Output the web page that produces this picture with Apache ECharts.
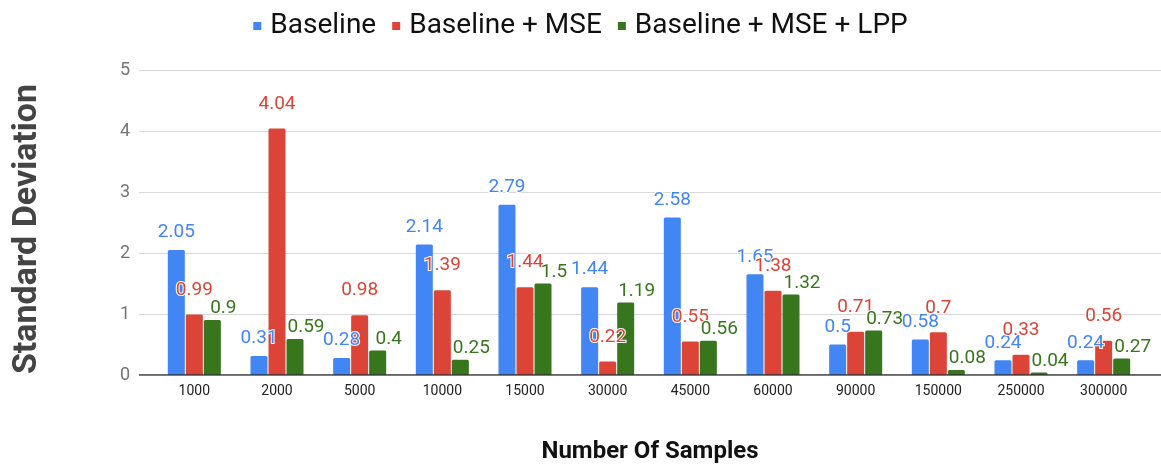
<!DOCTYPE html>
<html><head><meta charset="utf-8">
<script src="https://cdn.jsdelivr.net/npm/echarts@6/dist/echarts.min.js"></script>
<style>html,body{margin:0;padding:0;background:#fff}#c{width:1161px;height:465px}</style>
</head><body><div id="c"></div>
<script>
const categories = ['1000','2000','5000','10000','15000','30000','45000','60000','90000','150000','250000','300000'];
const baseline = [2.05,0.31,0.28,2.14,2.79,1.44,2.58,1.65,0.5,0.58,0.24,0.24];
const baselineMSE = [0.99,4.04,0.98,1.39,1.44,0.22,0.55,1.38,0.71,0.7,0.33,0.56];
const baselineMSELPP = [0.9,0.59,0.4,0.25,1.5,1.19,0.56,1.32,0.73,0.08,0.04,0.27];
const seriesNames = ['Baseline','Baseline + MSE','Baseline + MSE + LPP'];
const yTicks = [0,1,2,3,4,5];
const xTitle = 'Number Of Samples';
const yTitle = 'Standard Deviation';
const colors = ['#4285F4','#DB4437','#38761D'];
const font = 'Roboto, "Noto Sans", sans-serif';

const chart = echarts.init(document.getElementById('c'));
function mk(name, data, color, dist, dx){
  return {
    name, type:'bar', data, xAxisIndex:1, yAxisIndex:1,
    barWidth:17, barGap:'6%',
    itemStyle:{color, borderRadius:[1.5,1.5,0,0]},
    label:{show:true, position:'top', distance:dist, offset:[dx,0], color, fontFamily:font, fontSize:19,
      textBorderColor:'#fff', textBorderWidth:2}
  };
}
chart.setOption({
  animation:false,
  color:colors,
  legend:{
    top:7, left:'center', itemWidth:8, itemHeight:8, itemGap:16, icon:'rect',
    textStyle:{fontFamily:font, fontSize:28, color:'#111', padding:[0,0,0,4]},
    data:seriesNames
  },
  grid:[
    {left:139, right:0, top:70, bottom:90, outerBoundsMode:'none', containLabel:false},
    {left:153, right:16, top:70, bottom:90, outerBoundsMode:'none', containLabel:false}
  ],
  xAxis:[
    {type:'value', gridIndex:0, show:false, min:0, max:1},
    {type:'category', gridIndex:1, data:categories,
      axisLine:{show:false}, axisTick:{show:false},
      axisLabel:{color:'#222', fontFamily:font, fontSize:14, margin:9}}
  ],
  yAxis:[
    {type:'value', gridIndex:0, min:yTicks[0], max:yTicks[yTicks.length-1], interval:1,
      axisLine:{show:false}, axisTick:{show:false},
      axisLabel:{color:'#757575', fontFamily:font, fontSize:18, margin:9},
      splitLine:{lineStyle:{color:'#d9d9d9', width:1}}},
    {type:'value', gridIndex:1, min:yTicks[0], max:yTicks[yTicks.length-1], interval:1, show:false, splitLine:{show:false}}
  ],
  graphic:[
    {type:'text', x:27, y:229, rotation:Math.PI/2,
      style:{text:yTitle, font:'bold 34px '+font, fill:'#444', align:'center', verticalAlign:'middle'}},
    {type:'text', x:650, y:452,
      style:{text:xTitle, font:'bold 24px '+font, fill:'#111', align:'center', verticalAlign:'middle'}}
  ],
  series:[
    mk(seriesNames[0], baseline, colors[0], 8, 0),
    mk(seriesNames[1], baselineMSE, colors[1], 15, 0),
    mk(seriesNames[2], baselineMSELPP, colors[2], 2, 11),
    {type:'line', xAxisIndex:0, yAxisIndex:0, data:[[0,0],[1,0]], symbol:'none', silent:true,
      lineStyle:{color:'#333', width:1.5}, z:5, legendHoverLink:false, tooltip:{show:false}}
  ]
});
</script></body></html>
